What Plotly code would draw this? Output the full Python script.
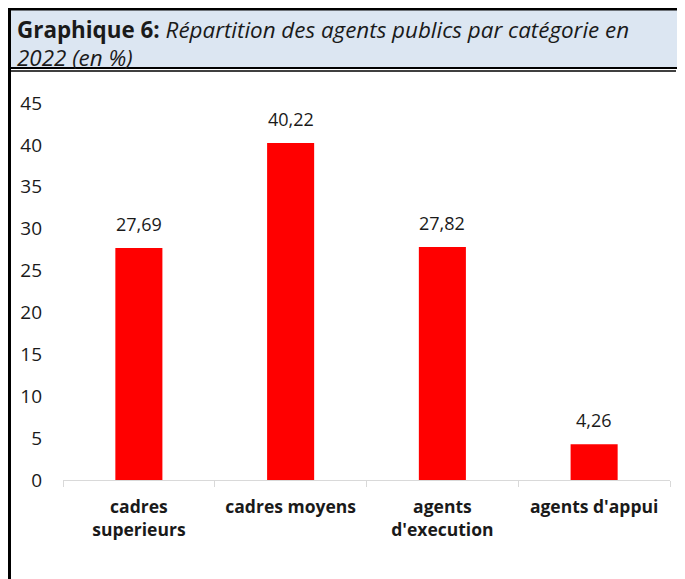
import plotly.graph_objects as go

categories = ["cadres<br>superieurs", "cadres moyens", "agents<br>d'execution", "agents d'appui"]
shares = [27.69, 40.22, 27.82, 4.26]
y_ticks = [0, 5, 10, 15, 20, 25, 30, 35, 40, 45]

title_1 = "<b>Graphique 6:</b> <i>Répartition des agents publics par catégorie en</i>"
title_2 = "<i>2022 (en %)</i>"

# page has an 8px body margin top/left, so the figure is a bit smaller than the window
OFF = 8
W, H = 685 - OFF, 579 - OFF
L, R, T, B = 63 - OFF, 15, 103 - OFF, 99
FONT = "Open Sans"


def px(x):
    # x given in screen pixels
    return (x - OFF - L) / (W - L - R)


def py(y):
    return (H - B - (y - OFF)) / (H - T - B)


fig = go.Figure()

fig.add_trace(go.Bar(
    x=categories,
    y=shares,
    marker=dict(color="#ff0000", line=dict(width=0)),
    hoverinfo="skip",
))

# data labels, french decimal comma
annotations = []
for c, v in zip(categories, shares):
    annotations.append(dict(
        x=c, y=v, text=f"{v:.2f}".replace(".", ","),
        showarrow=False, yshift=24,
        font=dict(family=FONT, size=18, color="#1a1a1a"),
    ))

# header text
annotations.append(dict(
    xref="paper", yref="paper", x=px(15), y=py(30), text=title_1,
    xanchor="left", yanchor="middle", showarrow=False,
    font=dict(family=FONT, size=22.4, color="#1a1a1a"),
))
annotations.append(dict(
    xref="paper", yref="paper", x=px(15), y=py(58), text=title_2,
    xanchor="left", yanchor="middle", showarrow=False,
    font=dict(family=FONT, size=22.4, color="#1a1a1a"),
))

shapes = [
    # header band
    dict(type="rect", xref="paper", yref="paper", x0=px(0), x1=px(678), y0=py(10), y1=py(68),
         fillcolor="#dce6f2", line=dict(width=0), layer="below"),
    # top border
    dict(type="line", xref="paper", yref="paper", x0=px(8), x1=px(680), y0=py(9), y1=py(9),
         line=dict(color="black", width=3)),
    # header bottom double line
    dict(type="line", xref="paper", yref="paper", x0=px(0), x1=px(680), y0=py(68), y1=py(68),
         line=dict(color="black", width=2)),
    dict(type="line", xref="paper", yref="paper", x0=px(10), x1=px(676), y0=py(71), y1=py(71),
         line=dict(color="black", width=1.5)),
    # left border
    dict(type="line", xref="paper", yref="paper", x0=px(9.5), x1=px(9.5), y0=py(0), y1=py(579),
         line=dict(color="black", width=3)),
    # right double border
    dict(type="line", xref="paper", yref="paper", x0=px(679), x1=px(679), y0=py(0), y1=py(579),
         line=dict(color="black", width=2.5)),
    dict(type="line", xref="paper", yref="paper", x0=px(683), x1=px(683), y0=py(0), y1=py(579),
         line=dict(color="black", width=2.5)),
]

fig.update_layout(
    width=W, height=H,
    margin=dict(l=L, r=R, t=T, b=B),
    paper_bgcolor="white",
    plot_bgcolor="white",
    showlegend=False,
    bargap=0.69,
    font=dict(family=FONT, size=18, color="#1a1a1a"),
    annotations=annotations,
    shapes=shapes,
    xaxis=dict(
        showgrid=False,
        showline=True, linecolor="#d9d9d9", linewidth=1,
        ticks="outside", tickson="boundaries", ticklen=6, tickcolor="#d9d9d9",
        tickfont=dict(family=FONT, size=17.5, color="#1a1a1a", weight="bold"),
        ticklabelstandoff=11,
        fixedrange=True,
    ),
    yaxis=dict(
        range=[0, 45],
        tickvals=y_ticks,
        showgrid=False, zeroline=False, showline=False,
        tickfont=dict(family=FONT, size=19, color="#1a1a1a"),
        ticklabelstandoff=20,
        fixedrange=True,
    ),
)

fig.write_html("out.html")
